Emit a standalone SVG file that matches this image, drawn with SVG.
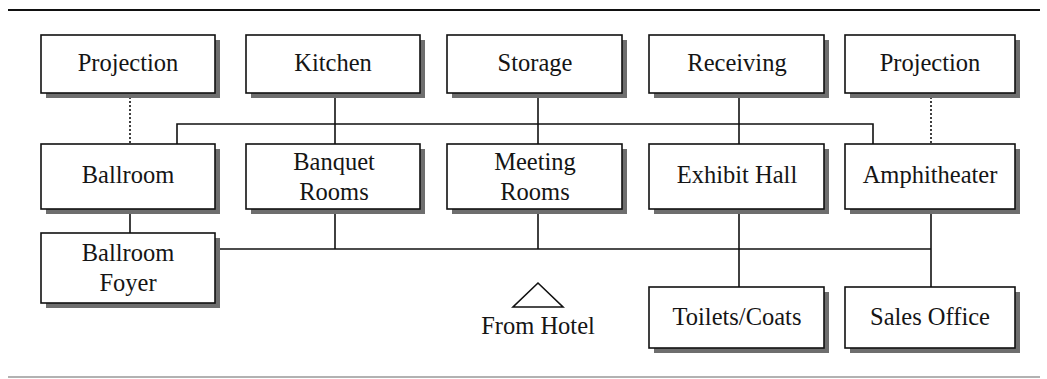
<svg xmlns="http://www.w3.org/2000/svg" width="1047" height="379" viewBox="0 0 1047 379">
<style>
.box{fill:#fff;stroke:#111;stroke-width:1.6}
.sh{fill:#6e6e6e}
.t{font-family:"Liberation Serif","Times New Roman",serif;font-size:24.5px;fill:#151515;text-anchor:middle}
.c{stroke:#111;stroke-width:1.6;fill:none}
.d{stroke:#111;stroke-width:1.6;fill:none;stroke-dasharray:2 2}
</style>
<rect width="1047" height="379" fill="#fff"/>
<line x1="8" y1="10" x2="1040" y2="10" stroke="#111" stroke-width="2"/>
<line x1="8" y1="377" x2="1040" y2="377" stroke="#999" stroke-width="1.5"/>
<g id="connectors">
<line class="d" x1="130" y1="93" x2="130" y2="144"/>
<line class="c" x1="335" y1="93" x2="335" y2="144"/>
<line class="c" x1="538" y1="93" x2="538" y2="144"/>
<line class="c" x1="739" y1="93" x2="739" y2="144"/>
<line class="d" x1="931" y1="93" x2="931" y2="144"/>
<polyline class="c" points="177,144 177,124 873,124 873,144"/>
<line class="c" x1="130" y1="209" x2="130" y2="233"/>
<line class="c" x1="216" y1="249" x2="931" y2="249"/>
<line class="c" x1="335" y1="209" x2="335" y2="249"/>
<line class="c" x1="538" y1="209" x2="538" y2="249"/>
<line class="c" x1="739" y1="209" x2="739" y2="287"/>
<line class="c" x1="931" y1="209" x2="931" y2="287"/>
</g>
<g id="projection1"><rect class="sh" x="46" y="40" width="174" height="58"/><rect class="box" x="41" y="35" width="174" height="58"/><text class="t" x="128" y="71">Projection</text></g>
<g id="kitchen"><rect class="sh" x="251" y="40" width="174" height="58"/><rect class="box" x="246" y="35" width="174" height="58"/><text class="t" x="333" y="71">Kitchen</text></g>
<g id="storage"><rect class="sh" x="452" y="40" width="175" height="58"/><rect class="box" x="447" y="35" width="175" height="58"/><text class="t" x="535" y="71">Storage</text></g>
<g id="receiving"><rect class="sh" x="654" y="40" width="175" height="58"/><rect class="box" x="649" y="35" width="175" height="58"/><text class="t" x="737" y="71">Receiving</text></g>
<g id="projection2"><rect class="sh" x="850" y="40" width="170" height="58"/><rect class="box" x="845" y="35" width="170" height="58"/><text class="t" x="930" y="71">Projection</text></g>
<g id="ballroom"><rect class="sh" x="46" y="149" width="174" height="65"/><rect class="box" x="41" y="144" width="174" height="65"/><text class="t" x="128" y="183">Ballroom</text></g>
<g id="banquet"><rect class="sh" x="251" y="149" width="174" height="65"/><rect class="box" x="246" y="144" width="174" height="65"/><text class="t" x="334" y="170">Banquet</text><text class="t" x="334" y="200">Rooms</text></g>
<g id="meeting"><rect class="sh" x="452" y="149" width="175" height="65"/><rect class="box" x="447" y="144" width="175" height="65"/><text class="t" x="535" y="170">Meeting</text><text class="t" x="535" y="200">Rooms</text></g>
<g id="exhibit"><rect class="sh" x="654" y="149" width="175" height="65"/><rect class="box" x="649" y="144" width="175" height="65"/><text class="t" x="737" y="183">Exhibit Hall</text></g>
<g id="amphitheater"><rect class="sh" x="850" y="149" width="170" height="65"/><rect class="box" x="845" y="144" width="170" height="65"/><text class="t" x="930" y="183">Amphitheater</text></g>
<g id="foyer"><rect class="sh" x="46" y="238" width="174" height="70"/><rect class="box" x="41" y="233" width="174" height="70"/><text class="t" x="128" y="261">Ballroom</text><text class="t" x="128" y="291">Foyer</text></g>
<g id="toilets"><rect class="sh" x="654" y="292" width="175" height="61"/><rect class="box" x="649" y="287" width="175" height="61"/><text class="t" x="737" y="325">Toilets/Coats</text></g>
<g id="sales"><rect class="sh" x="850" y="292" width="170" height="61"/><rect class="box" x="845" y="287" width="170" height="61"/><text class="t" x="930" y="325">Sales Office</text></g>
<g id="fromhotel"><polygon points="538,283 513,307 563,307" fill="none" stroke="#111" stroke-width="1.6"/><text class="t" x="538" y="334">From Hotel</text></g>
</svg>
